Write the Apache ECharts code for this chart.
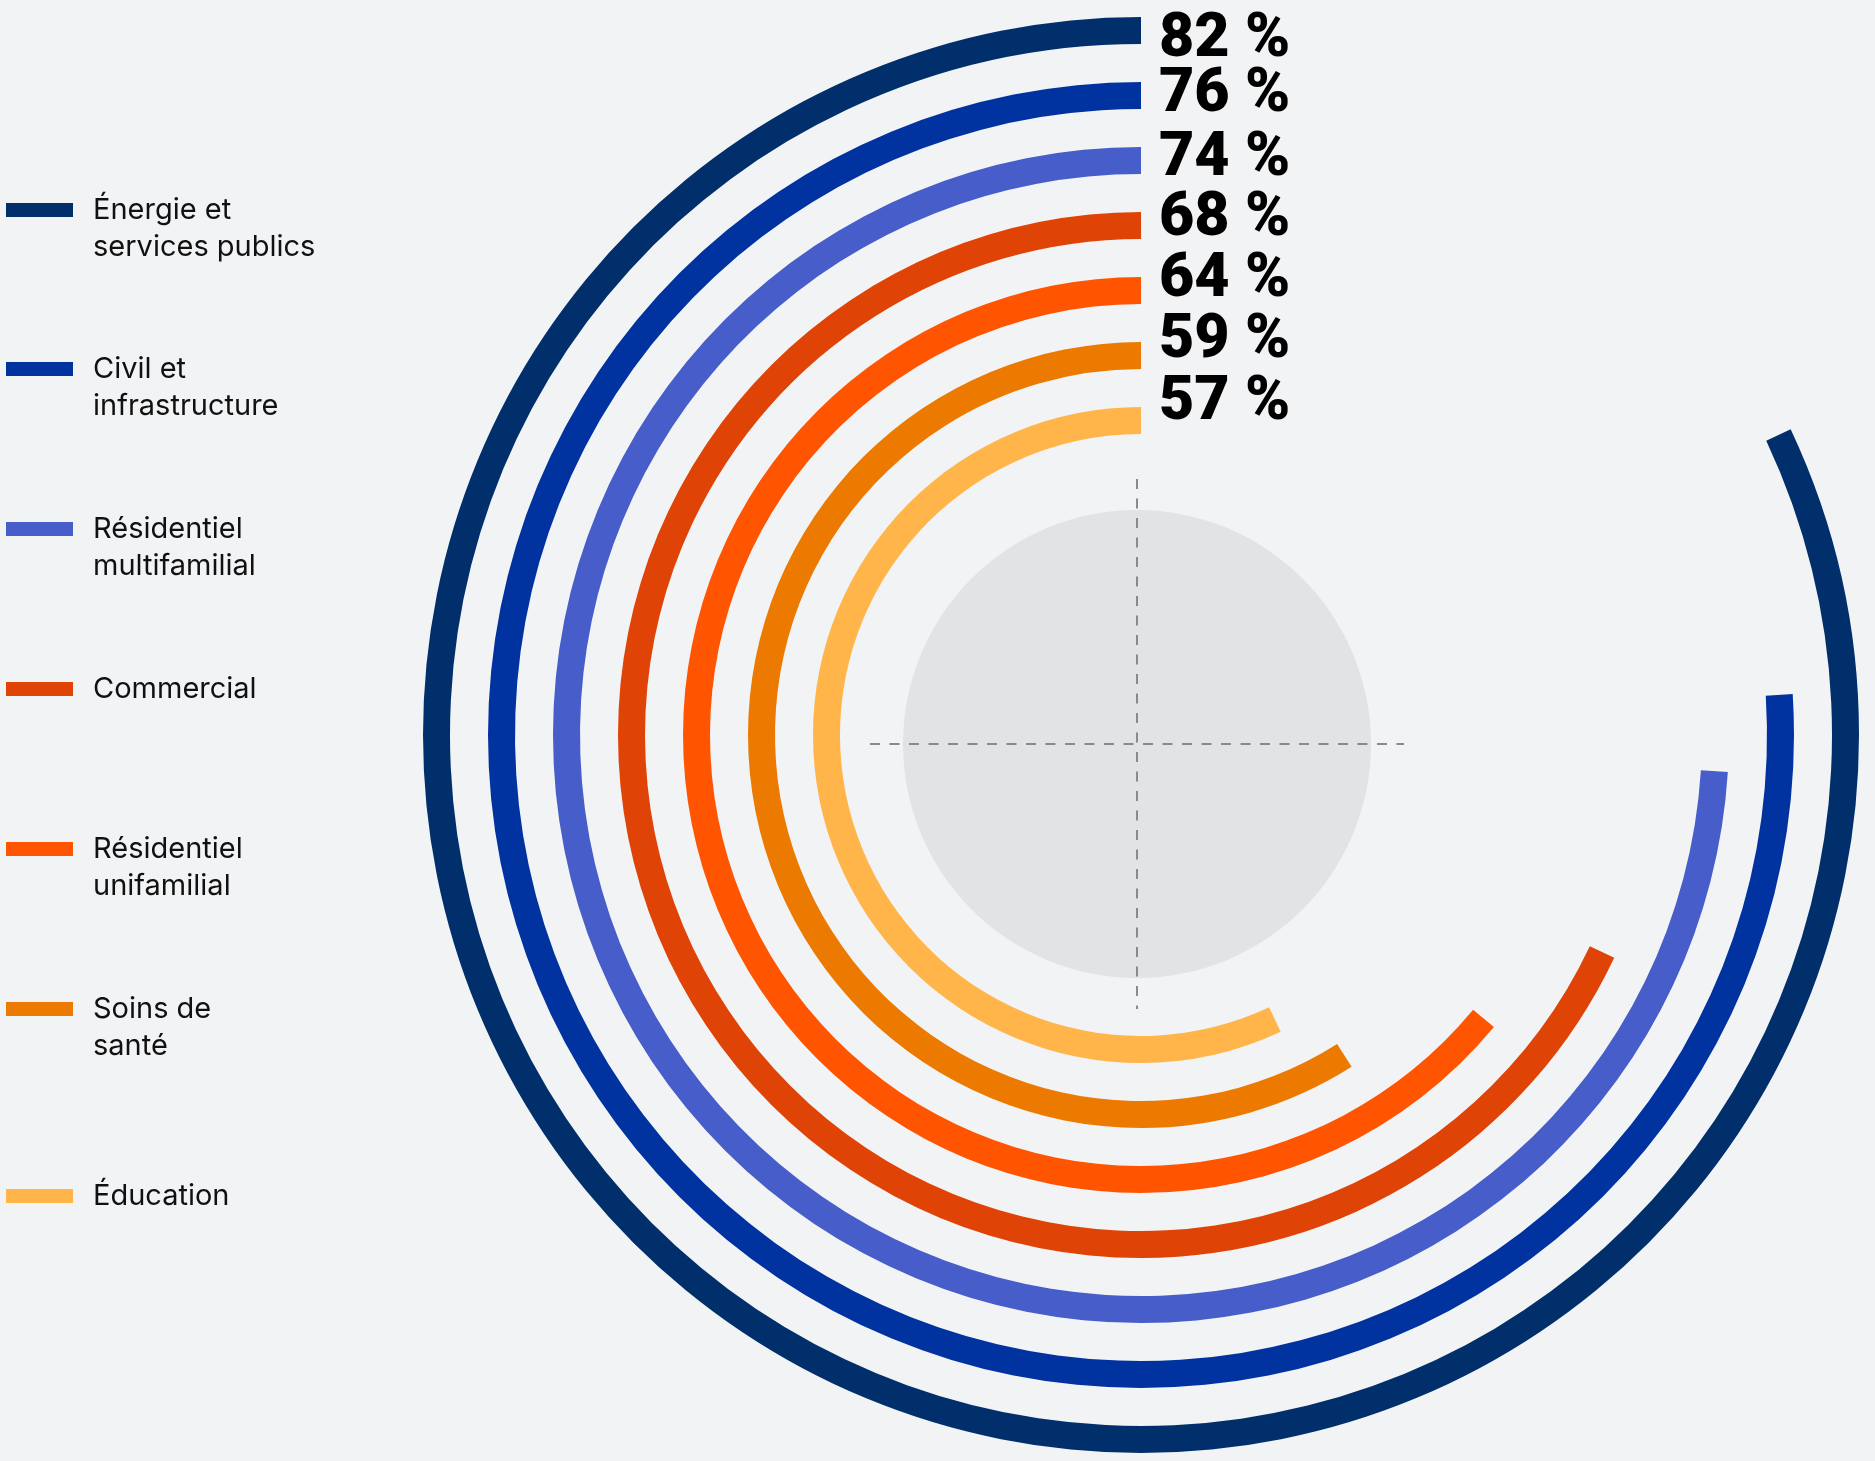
<!DOCTYPE html>
<html>
<head>
<meta charset="utf-8">
<script src="https://cdn.jsdelivr.net/npm/echarts@6/dist/echarts.min.js"></script>
<style>
  html, body { margin: 0; padding: 0; background: #f2f3f5; }
  #chart { width: 1875px; height: 1461px; }
</style>
</head>
<body>
<div id="chart"></div>
<script>
// Sectors, outermost ring first
const categories = [
  'Énergie et\nservices publics',
  'Civil et\ninfrastructure',
  'Résidentiel\nmultifamilial',
  'Commercial',
  'Résidentiel\nunifamilial',
  'Soins de\nsanté',
  'Éducation'
];
// Share of respondents, in percent
const shares = [82, 76, 74, 68, 64, 59, 57];
const colors = ['#012f6b', '#0033a0', '#465dca', '#df4306', '#ff5500', '#ec7a00', '#ffb54a'];

// Vertical centre of each legend swatch
const legendCenters = [210, 369, 529, 689, 849, 1009, 1196];
// The value labels sit in an evenly spaced column, slightly tighter than the rings
const labelShiftY = [10, 0, -1, -6, -10, -14, -17];
const LINE_H = 37;

const chart = echarts.init(document.getElementById('chart'), null, { renderer: 'canvas' });

const series = categories.map((name, i) => ({
  type: 'bar',
  name: name,
  coordinateSystem: 'polar',
  stack: 'rings',
  data: categories.map((c, j) => (j === i ? shares[i] : '-')),
  barWidth: 27,
  itemStyle: { color: colors[i] },
  label: {
    show: true,
    position: 'start',
    rotate: 0,
    distance: 18,
    offset: [36, labelShiftY[i]],
    formatter: '{c} %',
    color: '#000',
    fontFamily: 'Roboto',
    fontWeight: 900,
    fontSize: 61,
    align: 'left',
    verticalAlign: 'middle'
  },
  silent: true
}));

const legends = categories.map((name, i) => {
  const twoLines = name.indexOf('\n') >= 0;
  const half = twoLines ? LINE_H * 1.5 : LINE_H * 0.5;
  return {
    left: 6,
    top: legendCenters[i] - half,
    padding: 0,
    orient: 'vertical',
    icon: 'rect',
    itemWidth: 67,
    itemHeight: 14,
    data: [name],
    selectedMode: false,
    // a blank first line keeps the swatch level with the first line of a two-line name
    formatter: (n) => (n.indexOf('\n') >= 0 ? ' \n' + n : n),
    textStyle: {
      fontFamily: 'Inter',
      fontSize: 29,
      color: '#111',
      lineHeight: LINE_H,
      padding: [0, 0, 0, 15]
    }
  };
});

chart.setOption({
  backgroundColor: '#f2f3f5',
  animation: false,
  polar: { center: [1141, 735], radius: [282, 737] },
  angleAxis: {
    type: 'value', min: 0, max: 100, startAngle: 90, clockwise: false,
    show: false
  },
  radiusAxis: {
    type: 'category', data: categories, inverse: true,
    show: false
  },
  legend: legends,
  graphic: [
    {
      type: 'circle', z: -10, silent: true,
      shape: { cx: 1137, cy: 744, r: 234 },
      style: { fill: '#e2e3e5' }
    },
    {
      type: 'line', z: -5, silent: true,
      shape: { x1: 1137, y1: 479, x2: 1137, y2: 1009 },
      style: { stroke: '#8a8a8a', lineWidth: 2, lineDash: [10, 9.5] }
    },
    {
      type: 'line', z: -5, silent: true,
      shape: { x1: 870, y1: 744, x2: 1404, y2: 744 },
      style: { stroke: '#8a8a8a', lineWidth: 2, lineDash: [10, 9.5] }
    }
  ],
  series: series
});
</script>
</body>
</html>
